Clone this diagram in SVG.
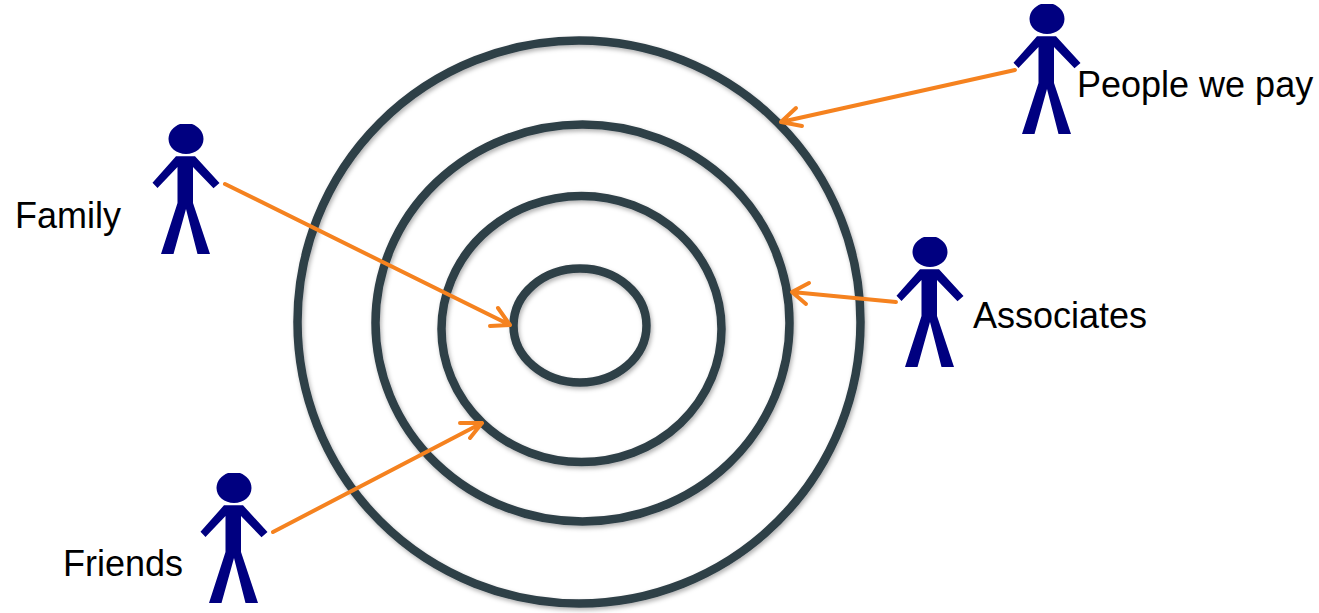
<svg xmlns="http://www.w3.org/2000/svg" width="1319" height="613" viewBox="0 0 1319 613">
<style>
.ring{fill:none;stroke:#2f3f47;stroke-width:8.500}
.wire{fill:none;stroke:#f5821f;stroke-width:4;stroke-linecap:round;stroke-linejoin:round}
.fig{fill:#000080}
text{font-family:"Liberation Sans",Arial,sans-serif;font-size:36px;fill:#000}
</style>
<defs>
<filter id="sh" x="-5%" y="-5%" width="110%" height="110%"><feDropShadow dx="1.5" dy="2.5" stdDeviation="2" flood-color="#000" flood-opacity="0.3"/></filter>
<g id="person" class="fig">
<path d="M-17.500 15C-17.500 8 -12.500 2.500 -6 0H6C12.500 2.500 17.500 8 17.500 15C17.500 23.500 9.500 30 0 30C-9.500 30 -17.500 23.500 -17.500 15Z"/>
<path d="M-10 32.300H9L33.500 59L27.500 64.200L7 43V79L24 130H11.500L0 85L-12.500 130H-25L-8.500 79V43L-28.500 64L-33.500 58.700Z"/>
</g>
</defs>
<g id="rings" filter="url(#sh)">
<ellipse id="ring-outer" class="ring" cx="579" cy="322" rx="281.500" ry="281.500"/>
<ellipse id="ring-second" class="ring" cx="582.500" cy="323" rx="207" ry="198.500"/>
<ellipse id="ring-third" class="ring" cx="581.500" cy="329" rx="140" ry="133"/>
<ellipse id="ring-inner" class="ring" cx="580" cy="325.500" rx="66.500" ry="57"/>
</g>
<g id="connectors">
<path class="wire" d="M225 184L510 325M490 326L510 325L498 308"/>
<path class="wire" d="M273 532L482 423M460 423L482 423L470 438"/>
<path class="wire" d="M896 302L792 292M809 283L792 292L806 304"/>
<path class="wire" d="M1015 70L781 122M796 108L781 122L802 126"/>
</g>
<g id="family"><use href="#person" x="186" y="124"/><text x="15" y="228">Family</text></g>
<g id="friends"><use href="#person" x="234" y="473"/><text x="63" y="576">Friends</text></g>
<g id="associates"><use href="#person" x="930" y="237"/><text x="973" y="328">Associates</text></g>
<g id="people-we-pay"><use href="#person" x="1047" y="4"/><text x="1077" y="97">People we pay</text></g>
</svg>
